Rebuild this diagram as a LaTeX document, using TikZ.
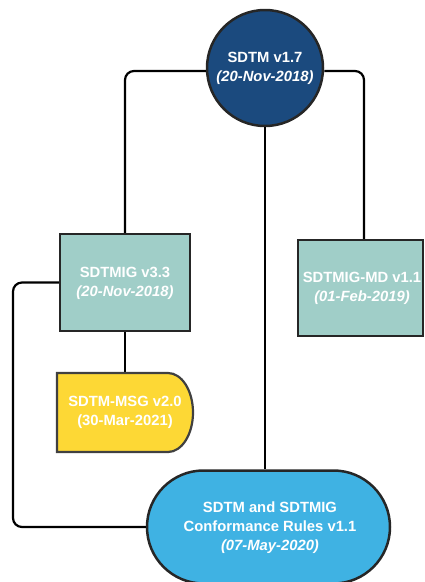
\documentclass[tikz,border=0pt]{standalone}
\usepackage{fontspec}
\setmainfont{Liberation Sans}
\usetikzlibrary{shapes.misc}
\definecolor{darkblue}{HTML}{1B4A7E}
\definecolor{tealbox}{HTML}{A0CEC8}
\definecolor{yellowbox}{HTML}{FDD835}
\definecolor{skyblue}{HTML}{3FB2E3}
\tikzset{
  conn/.style={line width=2.2pt, black, rounded corners=9pt},
  lbl/.style={text=white, font=\fontsize{14.8}{19}\selectfont\bfseries, align=center, inner sep=0pt},
  border/.style={line width=2.5pt, draw=black!85}
}
\begin{document}
\begin{tikzpicture}[x=1pt,y=-1pt]
\useasboundingbox (0,0) rectangle (425,582);
% nodes
\node[circle, border, fill=darkblue, minimum size=116pt, inner sep=0pt] (sdtm) at (265,68) {};
\node[rectangle, border, fill=tealbox, minimum width=130pt, minimum height=97pt, inner sep=0pt] (ig) at (125,282.5) {};
\node[rectangle, border, fill=tealbox, minimum width=125pt, minimum height=96pt, inner sep=0pt] (md) at (360.5,288) {};
\node[rounded rectangle, border, fill=skyblue, minimum width=243pt, minimum height=113pt, inner sep=0pt] (cr) at (268.5,527) {};
% connectors
\coordinate (msgtop) at (125,373);
\coordinate (lc) at (125,71);
\coordinate (rc) at (364,71);
\draw[conn] (sdtm.west |- lc) -- (lc) -- (ig.north);
\draw[conn] (sdtm.east |- rc) -- (rc) -- (md.north -| rc);
\draw[conn] (sdtm.south) -- (cr.north -| sdtm.south);
\draw[conn] (ig.south) -- (msgtop);
\draw[conn] (ig.west) -- (13,282.5) -- (13,527) -- (cr.west);
% MSG shape
\draw[border, line width=2.2pt, draw=black!75, fill=yellowbox] (57,373) -- (168,373) arc[start angle=-90, end angle=90, x radius=25, y radius=39.5] -- (57,452) -- cycle;
% labels
\node[lbl] (sdtmtxt) at (265,68) {SDTM v1.7\\\itshape (20-Nov-2018)};
\node[lbl] (igtxt) at (125,283) {SDTMIG v3.3\\\itshape (20-Nov-2018)};
\node[lbl] (mdtxt) at (362,288) {SDTMIG-MD v1.1\\\itshape (01-Feb-2019)};
\node[lbl] (msgtxt) at (125,412) {SDTM-MSG v2.0\\(30-Mar-2021)};
\node[lbl] (crtxt) at (270,528) {SDTM and SDTMIG\\Conformance Rules v1.1\\\itshape (07-May-2020)};
\end{tikzpicture}
\end{document}
